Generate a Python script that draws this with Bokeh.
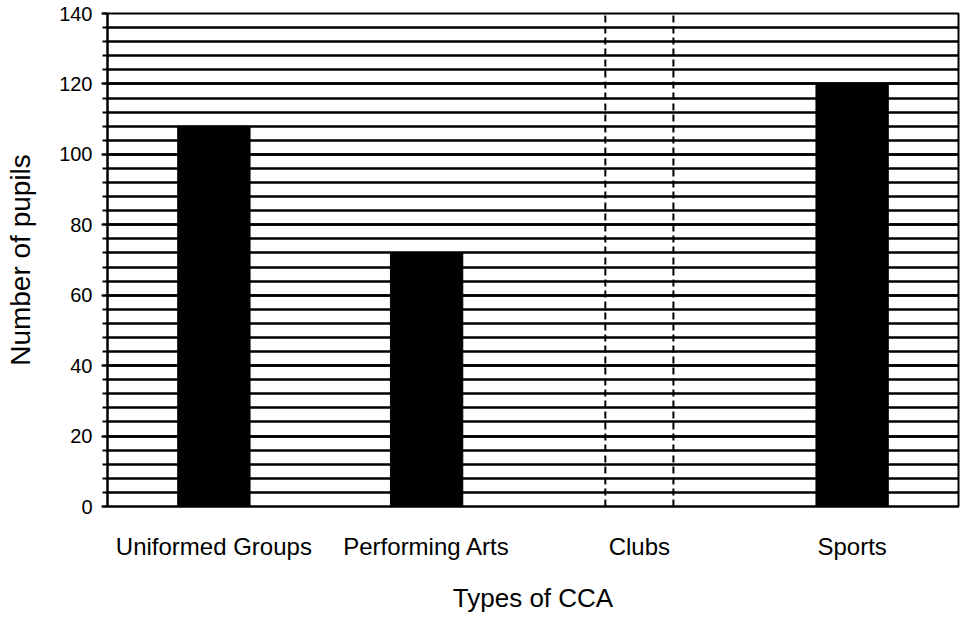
from bokeh.plotting import figure
from bokeh.models import Range1d, SingleIntervalTicker, ColumnDataSource
from bokeh.transform import dodge
from bokeh.embed import file_html
from bokeh.resources import INLINE

categories = ["Uniformed Groups", "Performing Arts", "Clubs", "Sports"]
pupils = [108, 72, 0, 120]
y_max = 140
clubs_category = ["Clubs"]
clubs_guide_top = [140]
clubs_guide_bottom = [0]

FONT = "Liberation Sans"

p = figure(x_range=categories, y_range=Range1d(0, y_max),
           width=960, height=620, output_backend="svg", toolbar_location=None,
           min_border_left=107, min_border_right=2, min_border_top=13, min_border_bottom=114)

src = ColumnDataSource(dict(cat=categories, val=pupils))
p.vbar(x="cat", top="val", width=0.34, source=src, fill_color="black", line_color="black")

gsrc = ColumnDataSource(dict(cat=clubs_category, top=clubs_guide_top, bot=clubs_guide_bottom))
for off in (-0.16, 0.16):
    p.segment(x0=dodge("cat", off, range=p.x_range), y0="bot",
              x1=dodge("cat", off, range=p.x_range), y1="top",
              source=gsrc, line_color="black", line_width=2, line_dash="7 4")

tick = SingleIntervalTicker(interval=20, num_minor_ticks=5)
p.yaxis.ticker = tick
p.ygrid.ticker = tick
p.ygrid.grid_line_color = "black"
p.ygrid.grid_line_width = 2.5
p.ygrid.minor_grid_line_color = "black"
p.ygrid.minor_grid_line_width = 2.5
p.xgrid.grid_line_color = None

p.outline_line_color = "black"
p.outline_line_width = 2

p.yaxis.axis_label = "Number of pupils"
p.yaxis.axis_label_text_font = FONT
p.yaxis.axis_label_text_font_size = "28px"
p.yaxis.axis_label_text_font_style = "normal"
p.yaxis.axis_label_text_color = "black"
p.yaxis.axis_label_standoff = 20
p.yaxis.major_label_text_font = FONT
p.yaxis.major_label_text_font_size = "20px"
p.yaxis.major_label_text_color = "black"
p.yaxis.major_label_standoff = 9
p.yaxis.axis_line_color = "black"
p.yaxis.axis_line_width = 2
p.yaxis.major_tick_line_color = "black"
p.yaxis.major_tick_line_width = 2
p.yaxis.major_tick_out = 6
p.yaxis.major_tick_in = 0
p.yaxis.minor_tick_line_color = "black"
p.yaxis.minor_tick_line_width = 2
p.yaxis.minor_tick_out = 5
p.yaxis.minor_tick_in = 0

p.xaxis.axis_label = "Types of CCA"
p.xaxis.axis_label_text_font = FONT
p.xaxis.axis_label_text_font_size = "26px"
p.xaxis.axis_label_text_font_style = "normal"
p.xaxis.axis_label_text_color = "black"
p.xaxis.axis_label_standoff = 20
p.xaxis.major_label_text_font = FONT
p.xaxis.major_label_text_font_size = "24px"
p.xaxis.major_label_text_color = "black"
p.xaxis.major_label_standoff = 20
p.xaxis.axis_line_color = "black"
p.xaxis.axis_line_width = 2
p.xaxis.major_tick_line_color = None
p.xaxis.minor_tick_line_color = None

open("out.html", "w").write(file_html(p, INLINE))
